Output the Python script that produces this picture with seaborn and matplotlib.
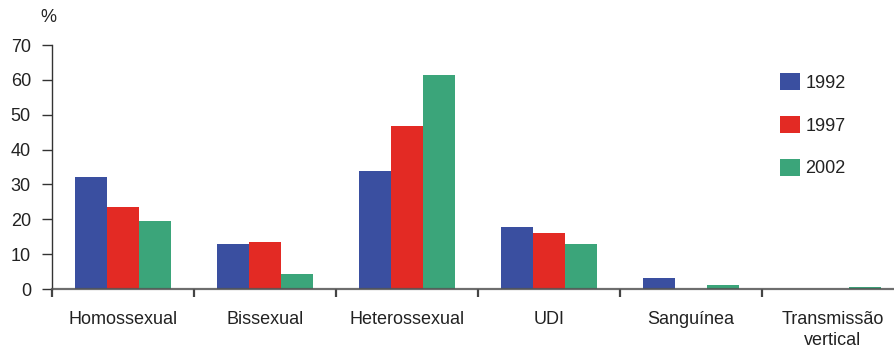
import numpy as np
import pandas as pd
import matplotlib
matplotlib.use("Agg")
import matplotlib.pyplot as plt
import seaborn as sns

# Percentage of cases by exposure category, per year
categorias = ["Homossexual", "Bissexual", "Heterossexual", "UDI", "Sanguínea",
              "Transmissão\nvertical"]
anos = ["1992", "1997", "2002"]
valores_1992 = [32.1, 12.9, 33.8, 17.8, 3.2, 0.0]
valores_1997 = [23.5, 13.5, 46.8, 16.1, 0.0, 0.0]
valores_2002 = [19.5, 4.3, 61.4, 12.9, 1.1, 0.6]
cores = ["#3A4FA0", "#E32A24", "#3BA57A"]

df = pd.DataFrame({
    "categoria": categorias * 3,
    "ano": [a for a in anos for _ in categorias],
    "pct": valores_1992 + valores_1997 + valores_2002,
})

sns.set_theme(style="white")
plt.rcParams["font.family"] = ["Liberation Sans", "DejaVu Sans"]
plt.rcParams["font.size"] = 13

W, H = 895, 352
fig = plt.figure(figsize=(W / 100, H / 100), dpi=100)
ax = fig.add_axes([52 / W, (H - 289) / H, (904 - 52) / W, 244 / H])

sns.barplot(data=df, x="categoria", y="pct", hue="ano", order=categorias,
            hue_order=anos, palette=cores, width=0.676, saturation=1,
            errorbar=None, linewidth=0, ax=ax)

ax.set_xlim(-0.5, 5.5)
ax.set_ylim(0, 70)
ax.set_yticks(np.arange(0, 71, 10))
ax.set_xlabel("")
ax.set_ylabel("")

for s in ["top", "right"]:
    ax.spines[s].set_visible(False)
ax.spines["left"].set_color("#333333")
ax.spines["left"].set_linewidth(1.0)
ax.spines["bottom"].set_color("#555555")
ax.spines["bottom"].set_linewidth(1.6)
ax.spines["bottom"].set_alpha(0.85)

ax.tick_params(axis="y", which="major", left=True, length=7.2, width=1.0,
               color="#333333", pad=8, labelsize=13, labelcolor="#222222")
ax.set_xticks(np.arange(-0.5, 6, 1), minor=True)
ax.tick_params(axis="x", which="major", bottom=True, length=0, pad=16,
               labelsize=13, labelcolor="#222222")
ax.tick_params(axis="x", which="minor", bottom=True, length=6, width=1.6,
               color="#444444")
for lbl in ax.get_xticklabels():
    lbl.set_multialignment("center")
    lbl.set_linespacing(1.3)

ax.text(48 / W, 1 - 18 / H, "%", transform=fig.transFigure, ha="center",
        va="center", fontsize=13, color="#222222")

ax.legend(title=None, frameon=False, loc="upper left",
          bbox_to_anchor=(780 / W, 1 - 73 / H), bbox_transform=fig.transFigure,
          borderpad=0, borderaxespad=0, handlelength=1.1, handleheight=1.1,
          handletextpad=0.3, labelspacing=1.33, fontsize=13,
          labelcolor="#222222")

fig.savefig("out.png", dpi=100)
